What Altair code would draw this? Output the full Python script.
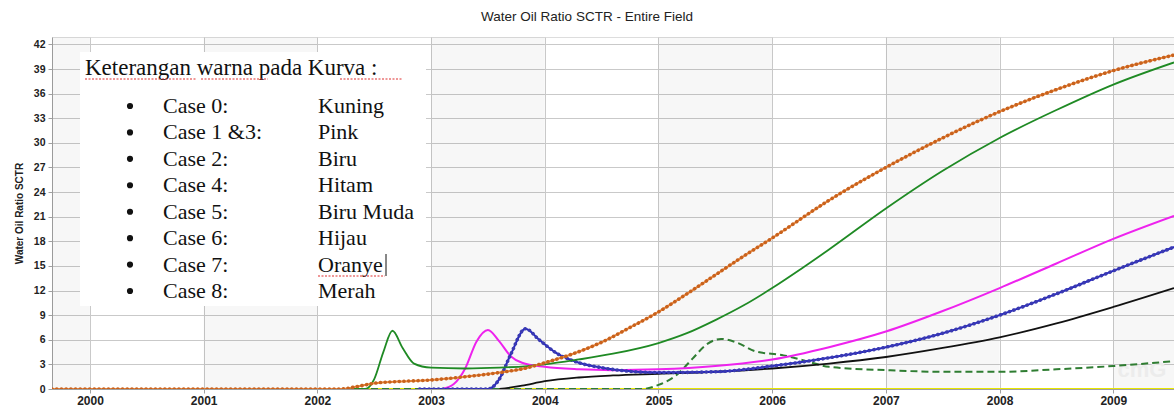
import altair as alt
import pandas as pd

# ---- chart data -------------------------------------------------------------
title_text = "Water Oil Ratio SCTR - Entire  Field"
y_title = "Water Oil Ratio SCTR"
year_ticks = [2000, 2001, 2002, 2003, 2004, 2005, 2006, 2007, 2008, 2009]
wor_ticks = [0, 3, 6, 9, 12, 15, 18, 21, 24, 27, 30, 33, 36, 39, 42]

# shaded year columns
band_start = [1999.666, 2001, 2003, 2005, 2007, 2009]
band_end = [2000, 2002, 2004, 2006, 2008, 2009.534]

case0_t = [1999.666, 2009.534]
case0_v = [0, 0]

case7_t = [1999.666, 2002.2, 2002.35, 2002.5, 2002.7, 2003.0, 2003.3, 2003.6, 2003.85,
           2004.0, 2004.25, 2004.5, 2004.75, 2005.0, 2005.25, 2005.5, 2005.75, 2006.0,
           2006.5, 2007.0, 2007.5, 2008.0, 2008.5, 2009.0, 2009.534]
case7_v = [0, 0, 0.3, 0.7, 0.9, 1.1, 1.5, 2.0, 2.6,
           3.2, 4.3, 5.7, 7.5, 9.4, 11.6, 13.9, 16.2, 18.4,
           23.0, 27.0, 30.6, 33.8, 36.5, 38.8, 40.7]

case6_t = [2002.3, 2002.42, 2002.5, 2002.58, 2002.66, 2002.75, 2002.85, 2003.0, 2003.3,
           2003.6, 2003.85, 2004.0, 2004.3, 2004.6, 2005.0, 2005.25, 2005.5, 2005.75,
           2006.0, 2006.25, 2006.5, 2007.0, 2007.5, 2008.0, 2008.5, 2009.0, 2009.534]
case6_v = [0, 0, 1.2, 4.5, 7.1, 5.0, 3.1, 2.6, 2.5,
           2.6, 2.8, 3.0, 3.6, 4.3, 5.6, 6.8, 8.4, 10.2,
           12.3, 14.6, 17.0, 22.0, 26.6, 30.6, 34.0, 37.1, 39.8]

case13_t = [2003.1, 2003.2, 2003.3, 2003.4, 2003.5, 2003.6, 2003.7, 2003.8, 2004.0,
            2004.3, 2004.6, 2005.0, 2005.5, 2006.0, 2006.5, 2007.0, 2007.5, 2008.0,
            2008.5, 2009.0, 2009.534]
case13_v = [0, 0.6, 2.5, 5.8, 7.2, 5.8, 4.0, 3.2, 2.7,
            2.4, 2.3, 2.4, 2.8, 3.6, 5.1, 7.0, 9.5, 12.3,
            15.3, 18.3, 21.1]

case2_t = [2002.9, 2003.5, 2003.6, 2003.7, 2003.83, 2003.95, 2004.1, 2004.3, 2004.5,
           2004.8, 2005.0, 2005.5, 2006.0, 2006.5, 2007.0, 2007.5, 2008.0, 2008.5,
           2009.0, 2009.534]
case2_v = [0, 0, 1.2, 4.2, 7.35, 6.0, 4.4, 3.2, 2.6,
           2.1, 2.0, 2.1, 2.8, 3.8, 5.1, 6.8, 9.0, 11.6,
           14.4, 17.3]

case4_t = [2003.6, 2003.8, 2004.0, 2004.3, 2004.6, 2005.0, 2005.5, 2006.0, 2006.5,
           2007.0, 2007.5, 2008.0, 2008.5, 2009.0, 2009.534]
case4_v = [0, 0.4, 0.95, 1.4, 1.65, 1.85, 2.1, 2.5, 3.1,
           3.9, 5.0, 6.3, 8.0, 10.0, 12.3]

case_dash_t = [1999.666, 2004.85, 2005.0, 2005.15, 2005.3, 2005.42, 2005.55, 2005.7, 2005.85,
               2006.1, 2006.3, 2006.5, 2007.0, 2007.5, 2008.0, 2008.5, 2009.0, 2009.534]
case_dash_v = [0, 0, 0.5, 1.6, 3.7, 5.4, 6.1, 5.6, 4.6,
               4.1, 3.4, 2.7, 2.3, 2.1, 2.1, 2.4, 2.8, 3.4]

# legend note
note_header = "Keterangan warna pada Kurva :"
note_cases = ["Case 0:", "Case 1 &3:", "Case 2:", "Case 4:", "Case 5:", "Case 6:", "Case 7:", "Case 8:"]
note_colors = ["Kuning", "Pink", "Biru", "Hitam", "Biru Muda", "Hijau", "Oranye", "Merah"]

# ---- layout -----------------------------------------------------------------
W, H = 1122, 352
T0, T1 = 1999.666, 2009.534
YMAX = 42.9
SANS = "Liberation Sans"
SERIF = "Liberation Serif"

x_scale = alt.Scale(domain=[T0, T1], nice=False, zero=False)
y_scale = alt.Scale(domain=[0, YMAX], nice=False, zero=True)

x_axis = alt.Axis(values=year_ticks, format="d", title=None, grid=True,
                  gridColor="#c9c9c9", gridWidth=1, domainColor="#a0a0a0",
                  tickColor="#a0a0a0", tickSize=4, labelFont=SANS, labelFontSize=12,
                  labelFontWeight="bold", labelColor="#222222", labelPadding=2)
y_axis = alt.Axis(values=wor_ticks, title=y_title, grid=True, gridColor="#c9c9c9",
                  gridWidth=1, domainColor="#a0a0a0", tickColor="#a0a0a0", tickSize=4,
                  labelFont=SANS, labelFontSize=10.5, labelFontWeight="bold",
                  labelColor="#222222", labelPadding=3, titleFont=SANS, titleFontSize=10,
                  titleFontWeight="bold", titleColor="#222222", titlePadding=9)


def xq(field):
    return alt.X(field, type="quantitative", scale=x_scale, axis=x_axis)


def yq(field):
    return alt.Y(field, type="quantitative", scale=y_scale, axis=y_axis)


bands = alt.Chart(pd.DataFrame({"start": band_start, "end": band_end})).mark_rect(
    fill="#000000", opacity=0.032
).encode(x=xq("start"), x2="end", y=alt.value(0), y2=alt.value(H))


def series(ts, vs, color, width=1.8, dash=None, beads=None):
    df = pd.DataFrame({"t": ts, "v": vs})
    kw = dict(color=color, strokeWidth=width, interpolate="monotone", clip=True)
    if dash:
        kw["strokeDash"] = dash
    layers = [alt.Chart(df).mark_line(**kw).encode(x=xq("t"), y=yq("v"))]
    if beads:
        layers.append(
            alt.Chart(df).mark_line(color=beads, strokeWidth=3.6, strokeDash=[0.1, 4.6],
                                    strokeCap="round", interpolate="monotone", clip=True)
            .encode(x=xq("t"), y=yq("v"))
        )
    return layers


lines = []
lines += series(case0_t, case0_v, "#e6e600", width=2.2)
lines += series(case_dash_t, case_dash_v, "#2f7d32", width=2.0, dash=[7, 4])
lines += series(case4_t, case4_v, "#111111", width=1.8)
lines += series(case13_t, case13_v, "#ee22ee", width=2.0)
lines += series(case2_t, case2_v, "#2222c8", width=2.0, beads="#3a3ab0")
lines += series(case6_t, case6_v, "#1f8a24", width=1.8)
lines += series(case7_t, case7_v, "#ee8a3c", width=2.0, beads="#c8621e")

watermark = alt.Chart(pd.DataFrame({"w": ["cmG"]})).mark_text(
    font=SANS, fontSize=22, fontWeight="bold", color="#ececec", align="center", baseline="middle"
).encode(text="w:N", x=alt.value(1090), y=alt.value(333))

plot = alt.layer(bands, watermark, *lines)

# ---- note box drawn over the plot -------------------------------------------
box = alt.Chart(pd.DataFrame({"b": [0]})).mark_rect(fill="white").encode(
    x=alt.value(28), x2=alt.value(374), y=alt.value(15), y2=alt.value(269)
)

header = alt.Chart(pd.DataFrame({"h": [note_header]})).mark_text(
    font=SERIF, fontSize=23, color="#111111", align="left", baseline="middle"
).encode(text="h:N", x=alt.value(33), y=alt.value(31))

note_df = pd.DataFrame({"row": list(range(len(note_cases))), "case": note_cases, "col": note_colors})
row_y = alt.Y("row:Q", scale=alt.Scale(domain=[0, len(note_cases) - 1], range=[69, 254]), axis=None)

bullets = alt.Chart(note_df).mark_circle(color="#111111", opacity=1, size=38).encode(
    x=alt.value(78), y=row_y
)
case_txt = alt.Chart(note_df).mark_text(
    font=SERIF, fontSize=22, color="#111111", align="left", baseline="middle"
).encode(text="case:N", x=alt.value(111), y=row_y)
col_txt = alt.Chart(note_df).mark_text(
    font=SERIF, fontSize=22, color="#111111", align="left", baseline="middle"
).encode(text="col:N", x=alt.value(266), y=row_y)

# spell-check squiggles under the flagged words and the text cursor
squig = alt.Chart(pd.DataFrame({"x1": [33, 149, 288, 266], "x2": [145, 216, 350, 333],
                                "yy": [42, 42, 42, 239]})).mark_rule(
    color="#e03030", strokeWidth=1.2, strokeDash=[2, 1.5]
).encode(x=alt.X("x1:Q", scale=None), x2="x2:Q", y=alt.Y("yy:Q", scale=None))
cursor = alt.Chart(pd.DataFrame({"c": [0]})).mark_rule(color="#111111", strokeWidth=1).encode(
    x=alt.value(334), y=alt.value(217), y2=alt.value(239)
)

note = alt.layer(box, header, bullets, case_txt, col_txt, squig, cursor)

title = alt.Chart(pd.DataFrame({"t": [title_text]})).mark_text(
    font=SANS, fontSize=13.5, color="#222222", align="center", baseline="middle"
).encode(text="t:N", x=alt.value(535), y=alt.value(-20))

chart = alt.layer(plot, note, title).resolve_scale(x="independent", y="independent").properties(
    width=W, height=H, autosize="none",
    padding={"left": 52, "top": 37, "right": 0, "bottom": 18}
).configure_view(stroke="#b0b0b0").configure(background="white")

chart.save("out.html", embed_options={"renderer": "svg", "actions": False})
